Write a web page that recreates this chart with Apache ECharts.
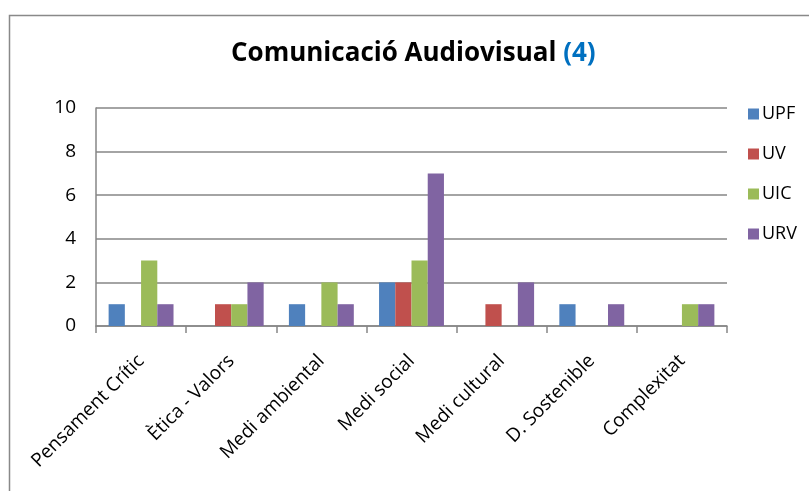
<!DOCTYPE html>
<html>
<head>
<meta charset="utf-8">
<script src="https://cdn.jsdelivr.net/npm/echarts@6/dist/echarts.min.js"></script>
<style>html,body{margin:0;padding:0;background:#fff;}#c{width:809px;height:491px;}</style>
</head>
<body>
<div id="c"></div>
<script>
const categories = ['Pensament Crític', 'Ètica - Valors', 'Medi ambiental', 'Medi social', 'Medi cultural', 'D. Sostenible', 'Complexitat'];
const seriesNames = ['UPF', 'UV', 'UIC', 'URV'];
const upf = [1, 0, 1, 2, 0, 1, 0];
const uv  = [0, 1, 0, 2, 1, 0, 0];
const uic = [3, 1, 2, 3, 0, 0, 1];
const urv = [1, 2, 1, 7, 2, 1, 1];
const yTicks = [0, 2, 4, 6, 8, 10];
const colors = ['#4F81BD', '#C0504D', '#9BBB59', '#8064A2'];

const font = '"Open Sans", Lato, sans-serif';
const chart = echarts.init(document.getElementById('c'), null, {renderer: 'canvas'});
const values = [upf, uv, uic, urv];
chart.setOption({
  animation: false,
  backgroundColor: '#fff',
  color: colors,
  graphic: [{
    type: 'rect',
    shape: {x: 9.5, y: 15.5, width: 1000, height: 1000},
    style: {fill: 'none', stroke: '#898989', lineWidth: 1.5},
    silent: true
  }],
  title: {
    text: '{a|Comunicació Audiovisual }{b|(4)}',
    left: 226,
    top: 36,
    textStyle: {
      rich: {
        a: {fontFamily: font, fontWeight: 'bold', fontSize: 26, color: '#000'},
        b: {fontFamily: font, fontWeight: 'bold', fontSize: 26, color: '#0070C0'}
      }
    }
  },
  legend: {
    orient: 'vertical',
    left: 743,
    top: 100,
    itemWidth: 11,
    itemHeight: 11,
    itemGap: 22,
    icon: 'rect',
    data: seriesNames,
    textStyle: {fontFamily: font, fontSize: 18, color: '#000', lineHeight: 18, padding: [0, 0, 0, -2]}
  },
  grid: {left: 96, right: 82, top: 108, bottom: 165, containLabel: false},
  xAxis: {
    type: 'category',
    data: categories,
    axisLine: {lineStyle: {color: '#868686', width: 1.5}},
    axisTick: {show: true, length: 7, lineStyle: {color: '#868686', width: 1.5}},
    axisLabel: {rotate: 45, fontFamily: font, fontSize: 19, color: '#000', margin: 32, interval: 0}
  },
  yAxis: {
    type: 'value',
    min: 0, max: 10, interval: 2,
    axisLine: {show: true, lineStyle: {color: '#868686', width: 1.5}},
    axisTick: {show: false},
    splitLine: {lineStyle: {color: '#868686', width: 1.5}},
    axisLabel: {fontFamily: font, fontSize: 19, color: '#000', margin: 20,
      formatter: v => yTicks.includes(v) ? String(v) : ''}
  },
  series: seriesNames.map((n, i) => ({
    name: n,
    type: 'bar',
    data: values[i],
    barGap: '0%',
    barCategoryGap: '28%',
    itemStyle: {color: colors[i]}
  }))
});
</script>
</body>
</html>
